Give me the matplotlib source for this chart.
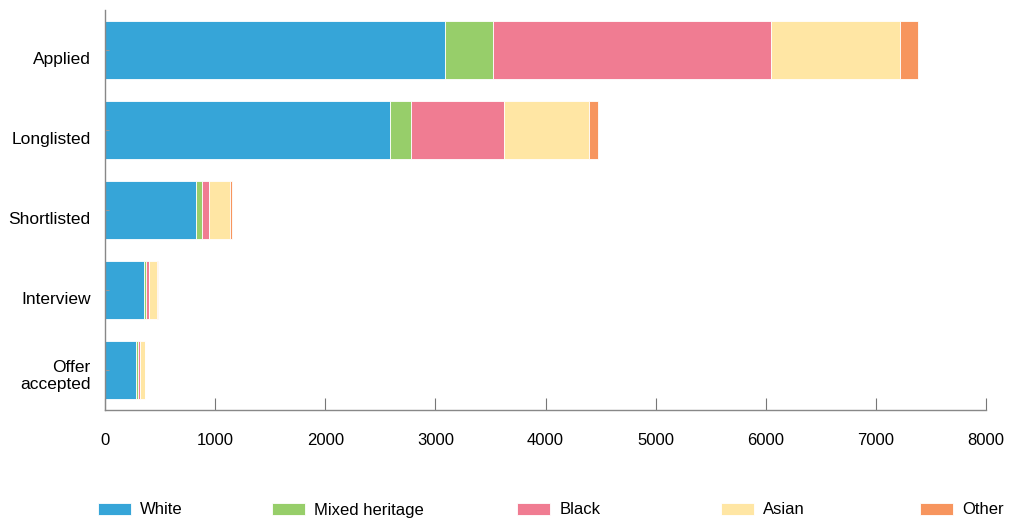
import matplotlib
matplotlib.use("Agg")
import matplotlib.pyplot as plt
import matplotlib.transforms as mtransforms
import numpy as np

plt.rcParams['font.family'] = ['Liberation Sans', 'DejaVu Sans']

stages = ["Applied", "Longlisted", "Shortlisted", "Interview", "Offer\naccepted"]
groups = ["White", "Mixed heritage", "Black", "Asian", "Other"]
colors = ["#36A5D8", "#97CE6A", "#F07C92", "#FFE6A4", "#F7955E"]

white = [3088, 2588, 827, 357, 282]
mixed = [436, 191, 54, 15, 14]
black = [2525, 845, 66, 24, 18]
asian = [1171, 772, 186, 73, 46]
other = [164, 82, 17, 15, 5]

series = [white, mixed, black, asian, other]

W, H = 1024, 532
fig = plt.figure(figsize=(W / 100, H / 100), dpi=100)
ax = fig.add_axes([105 / W, 1 - 410 / H, (986 - 105) / W, (410 - 10) / H])

y = np.arange(len(stages))
left = np.zeros(len(stages))
handles = []
for name, vals, c in zip(groups, series, colors):
    b = ax.barh(y, vals, left=left, height=0.725, color=c, edgecolor="white",
                linewidth=0.6, label=name)
    handles.append(b)
    left += np.array(vals)

ax.set_xlim(0, 8000)
ax.set_ylim(4.5, -0.5)
ax.set_xticks(np.arange(0, 8001, 1000))
ax.set_yticks(y)
ax.set_yticklabels(stages, fontsize=12.5, multialignment="right")
ax.tick_params(axis='x', labelsize=12, direction="in", length=9,
               color="#777777", pad=16.5)
ax.tick_params(axis='y', direction="in", length=3, color="#999999", pad=10.5)
for s in ["top", "right"]:
    ax.spines[s].set_visible(False)
for s in ["left", "bottom"]:
    ax.spines[s].set_color("#888888")
    ax.spines[s].set_linewidth(1)

# shift single-line labels slightly down like in the reference
for lab in ax.get_yticklabels():
    dy_px = -3 if "\n" in lab.get_text() else -8
    lab.set_transform(lab.get_transform() +
                      mtransforms.ScaledTranslation(0, dy_px / 100, fig.dpi_scale_trans))

legend_x = [98, 272, 517, 721, 920]
for h, name, lx in zip(handles, groups, legend_x):
    fig.legend(handles=[h], labels=[name], loc="center left",
               bbox_to_anchor=(lx / W, 1 - 510 / H), frameon=False,
               fontsize=12, handlelength=1.98, handleheight=0.72,
               handletextpad=0.55, borderaxespad=0, borderpad=0)

fig.savefig("out.png", dpi=100)
